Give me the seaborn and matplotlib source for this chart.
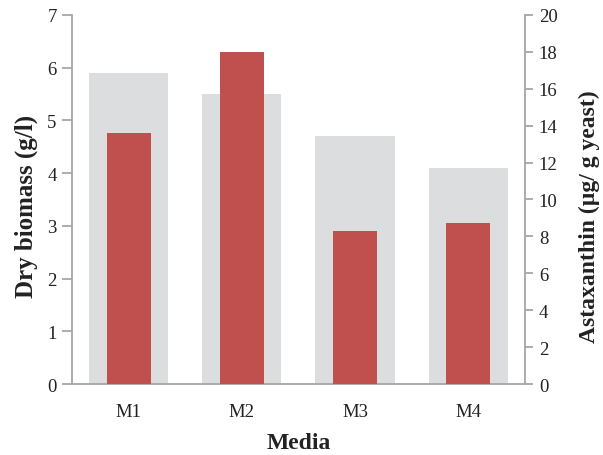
import matplotlib
matplotlib.use("Agg")
import matplotlib.pyplot as plt
import seaborn as sns
import pandas as pd
import numpy as np

media = ["M1", "M2", "M3", "M4"]
dry_biomass = [5.9, 5.5, 4.7, 4.1]          # g/l, left axis
astaxanthin = [13.6, 18.0, 8.3, 8.7]        # µg/g yeast, right axis

sns.set_theme(style="white")
plt.rcParams["font.family"] = ["Liberation Serif", "DejaVu Serif"]

df = pd.DataFrame({"Media": media, "Biomass": dry_biomass, "Astaxanthin": astaxanthin})

fig = plt.figure(figsize=(6.03, 4.56), dpi=100)
ax = fig.add_axes([0.1194, 0.1557, 0.7512, 0.8093])
ax2 = ax.twinx()

sns.barplot(data=df, x="Media", y="Biomass", ax=ax, color="#dcdddf",
            width=0.70, saturation=1, linewidth=0, zorder=1)
sns.barplot(data=df, x="Media", y="Astaxanthin", ax=ax2, color="#c0504d",
            width=0.39, saturation=1, linewidth=0, zorder=2)

spine_c = "#a6a6a6"
ax.set_xlim(-0.5, 3.5)
ax.set_ylim(0, 7)
ax2.set_ylim(0, 20)
ax.set_yticks(np.arange(0, 8, 1))
ax2.set_yticks(np.arange(0, 21, 2))

# category separators as major ticks, labels on minor ticks
ax.set_xticks(np.arange(-0.5, 4.0, 1.0))
ax.set_xticklabels([])
ax.set_xticks(np.arange(4), minor=True)
ax.set_xticklabels(media, minor=True)
ax.tick_params(axis="x", which="minor", length=0, pad=14, labelsize=13.5, colors="#222222")
ax.tick_params(axis="x", which="major", length=7, width=1.3, color=spine_c, direction="out")
ax.tick_params(axis="y", length=7, width=1.3, color=spine_c, direction="out",
               labelsize=13.5, labelcolor="#222222", pad=4, left=True)
ax2.tick_params(axis="y", length=6, width=1.3, color=spine_c, direction="out",
                labelsize=13.5, labelcolor="#222222", pad=4, right=True)

for a in (ax, ax2):
    for s in a.spines.values():
        s.set_visible(False)
    a.grid(False)
ax.spines["left"].set_visible(True)
ax.spines["bottom"].set_visible(True)
ax2.spines["right"].set_visible(True)
for s in (ax.spines["left"], ax.spines["bottom"], ax2.spines["right"]):
    s.set_color(spine_c)
    s.set_linewidth(1.3)

ax.set_xlabel("Media", fontsize=17, fontweight="bold", color="#222222", labelpad=8)
ax.set_ylabel("Dry biomass (g/l)", fontsize=18, fontweight="bold", color="#222222", labelpad=7)
ax2.set_ylabel("Astaxanthin (µg/ g yeast)", fontsize=17, fontweight="bold", color="#222222", labelpad=15)
ax.yaxis.label.set_y(0.485)
ax2.yaxis.label.set_y(0.455)

fig.savefig("out.png", dpi=100)
